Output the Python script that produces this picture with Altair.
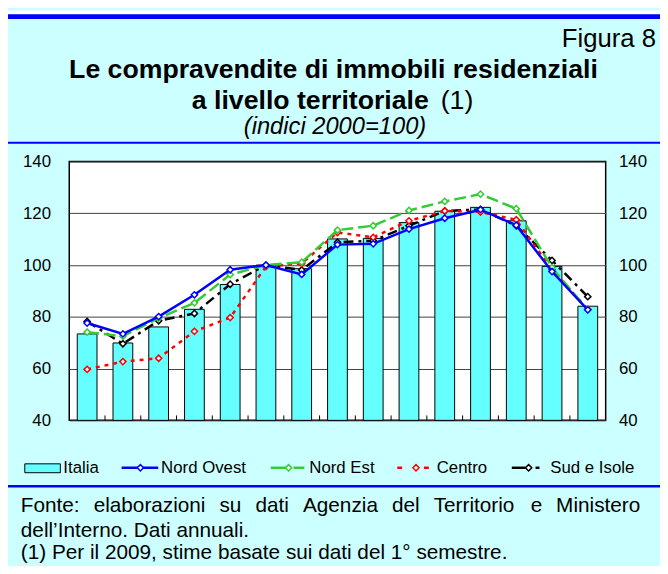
import altair as alt
import pandas as pd

FONT = "Liberation Sans"

years = ["'95", "'96", "'97", "'98", "'99", "'00", "'01", "'02", "'03", "'04", "'05", "'06", "'07", "'08", "'09"]
italia = [73.4, 69.9, 76.1, 82.9, 92.5, 100.0, 98.6, 110.1, 110.3, 116.4, 120.8, 122.3, 117.1, 99.5, 84.1]
nord_ovest = [77.6, 73.4, 80.1, 88.5, 98.2, 100.0, 96.4, 107.9, 108.2, 113.9, 118.1, 121.4, 115.4, 97.5, 82.7]
nord_est = [74.1, 72.5, 79.5, 85.4, 96.3, 100.0, 101.1, 113.5, 115.2, 121.1, 124.6, 127.4, 121.8, 99.0, 82.7]
centro = [59.7, 62.7, 64.0, 74.4, 79.7, 99.4, 100.6, 112.6, 110.7, 117.1, 120.9, 120.5, 117.5, 98.2, 82.9]
sud_isole = [78.2, 69.6, 78.5, 81.3, 92.6, 100.0, 98.1, 108.8, 109.4, 115.2, 120.9, 121.5, 115.2, 101.8, 87.8]
y_ticks = [40, 60, 80, 100, 120, 140]

W, H = 543, 262
BG = "#CCFFFF"
BAR = "#66FFFF"
BLUE = "#0000FF"

bars_df = pd.DataFrame({"year": years, "value": italia})
series = [
    ("Sud e Isole", sud_isole, "#000000", [10, 5, 3, 5]),
    ("Centro", centro, "#FF0000", [4, 5]),
    ("Nord Est", nord_est, "#33CC33", [12, 5]),
    ("Nord Ovest", nord_ovest, BLUE, None),
]

xscale = alt.Scale(type="band", domain=years, paddingInner=0, paddingOuter=0)
yscale = alt.Scale(domain=[40, 140], zero=False, nice=False)

bars = alt.Chart(bars_df).mark_bar(size=20, color=BAR, stroke="black", strokeWidth=1).encode(
    x=alt.X("year:N", sort=years, scale=xscale,
            axis=alt.Axis(title=None, labelFont=FONT, labelFontSize=17, labelColor="black",
                          labelAngle=0, ticks=False, domain=False, labelPadding=15)),
    y=alt.Y("value:Q", scale=yscale,
            axis=alt.Axis(orient="left", title=None, values=y_ticks, grid=True, gridColor="#404040",
                          gridWidth=1, ticks=False, domain=False, labelFont=FONT, labelFontSize=17,
                          labelColor="black", labelPadding=19)),
    y2=alt.datum(40),
)

tick_df = pd.DataFrame({"year": years[1:]})
xticks = alt.Chart(tick_df).mark_rule(color="black", strokeWidth=1).encode(
    x=alt.X("year:N", sort=years, scale=xscale, bandPosition=0, axis=None),
    y=alt.value(H), y2=alt.value(H - 5),
)

layers = [bars, xticks]
for i, (name, vals, col, dash) in enumerate(series):
    df = pd.DataFrame({"year": years, "value": vals})
    kw = dict(color=col, strokeWidth=2.5)
    if dash:
        kw["strokeDash"] = dash
    if name == "Nord Ovest":
        yax = alt.Axis(orient="right", title=None, values=y_ticks, grid=False, ticks=False, domain=False,
                       labelFont=FONT, labelFontSize=17, labelColor="black", labelPadding=13)
    else:
        yax = None
    line = alt.Chart(df).mark_line(**kw).encode(
        x=alt.X("year:N", sort=years, scale=xscale, axis=None),
        y=alt.Y("value:Q", scale=yscale, axis=yax),
    )
    pts = alt.Chart(df).mark_point(shape="diamond", filled=True, fill="white", stroke=col,
                                   strokeWidth=1.5, size=40, opacity=1).encode(
        x=alt.X("year:N", sort=years, scale=xscale, axis=None),
        y=alt.Y("value:Q", scale=yscale, axis=None),
    )
    layers += [line, pts]

dummy = pd.DataFrame({"d": [0]})


def rule(x1, x2, y1, y2, color, width, dash=None):
    kw = dict(color=color, strokeWidth=width)
    if dash:
        kw["strokeDash"] = dash
    return alt.Chart(dummy).mark_rule(**kw).encode(
        x=alt.value(x1), x2=alt.value(x2), y=alt.value(y1), y2=alt.value(y2))


def text(s, x, y, size, align="left", weight="normal", style="normal", baseline="alphabetic"):
    return alt.Chart(dummy).mark_text(text=s, align=align, baseline=baseline, fontSize=size,
                                      fontWeight=weight, fontStyle=style, font=FONT,
                                      color="black").encode(x=alt.value(x), y=alt.value(y))


def diamond(x, y, col):
    return alt.Chart(dummy).mark_point(shape="diamond", filled=True, fill="white", stroke=col,
                                       strokeWidth=1.5, size=40, opacity=1).encode(
        x=alt.value(x), y=alt.value(y))


deco = []
# white strip above header and blue separator lines
deco.append(alt.Chart(dummy).mark_rect(color="white").encode(
    x=alt.value(-64), x2=alt.value(600), y=alt.value(-153), y2=alt.value(-149)))
deco.append(rule(-63, 600, -146.7, -146.7, BLUE, 4.7))
deco.append(rule(-63, 600, -19, -19, BLUE, 2))
deco.append(rule(-63, 600, 328.7, 328.7, BLUE, 2.3))

# header texts
deco.append(text("Figura 8", 594, -116, 26, align="right"))
deco.append(text("Le compravendite di immobili residenziali", 267.5, -85, 27, align="center", weight="bold"))
deco.append(text("a livello territoriale", 364, -53, 27, align="right", weight="bold"))
deco.append(text("(1)", 376, -53, 27, align="left"))
deco.append(text("(indici 2000=100)", 269, -28, 24, align="center", style="italic"))

# legend
LY = 310
deco.append(alt.Chart(dummy).mark_rect(color=BAR, stroke="black", strokeWidth=1).encode(
    x=alt.value(-45), x2=alt.value(-9), y=alt.value(306), y2=alt.value(315)))
deco.append(text("Italia", -6, LY, 17, baseline="middle"))
deco.append(rule(53, 90, LY, LY, BLUE, 2.5))
deco.append(diamond(72, LY, BLUE))
deco.append(text("Nord Ovest", 93, LY, 17, baseline="middle"))
deco.append(rule(204, 220, LY, LY, "#33CC33", 2.5))
deco.append(rule(227, 238, LY, LY, "#33CC33", 2.5))
deco.append(diamond(222, LY, "#33CC33"))
deco.append(text("Nord Est", 243, LY, 17, baseline="middle"))
deco.append(rule(332, 337, LY, LY, "#FF0000", 2.5))
deco.append(rule(359, 364, LY, LY, "#FF0000", 2.5))
deco.append(diamond(351, LY, "#FF0000"))
deco.append(text("Centro", 372, LY, 17, baseline="middle"))
deco.append(rule(448, 462, LY, LY, "#000000", 2.5))
deco.append(rule(472, 476, LY, LY, "#000000", 2.5))
deco.append(diamond(465, LY, "#000000"))
deco.append(text("Sud e Isole", 487, LY, 17, baseline="middle"))

# footer (first line justified)
line1_words = ["Fonte:", "elaborazioni", "su", "dati", "Agenzia", "del", "Territorio", "e"]
line1_x = [-49, 24.7, 152.1, 188.5, 236.6, 326.7, 368.9, 467.1]
for w, x in zip(line1_words, line1_x):
    deco.append(text(w, x, 355, 21))
deco.append(text("Ministero", 578, 355, 21, align="right"))
deco.append(text("dell\u2019Interno. Dati annuali.", -49, 380, 21))
deco.append(text("(1) Per il 2009, stime basate sui dati del 1\u00b0 semestre.", -49, 402, 21))

chart = alt.layer(*layers, *deco).resolve_axis(y="independent").properties(
    width=W, height=H,
    padding={"left": 62, "top": 152, "right": 55, "bottom": 144},
    autosize=alt.AutoSizeParams(type="none"),
    background=BG,
).configure_view(stroke="black", strokeWidth=1.5, fill="white")

chart.save("out.html", embed_options={"renderer": "svg", "actions": False})
